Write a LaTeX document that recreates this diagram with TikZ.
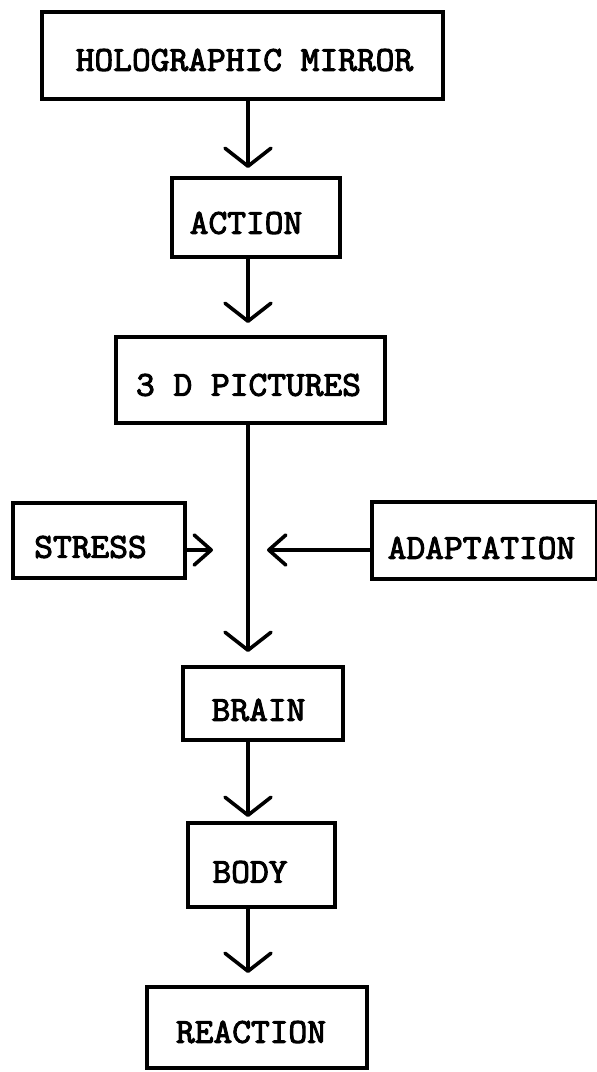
\documentclass[tikz,border=0pt]{standalone}
\usepackage{fontspec}
% slab-serif typewriter face, widened and darkened a little
\setmonofont{Latin Modern Mono}[FakeStretch=1.04, BoldFont={Latin Modern Mono}, BoldFeatures={FakeBold=3}]
\usetikzlibrary{arrows.meta}
\begin{document}
\begin{tikzpicture}[x=1pt,y=-1pt,
  box/.style={draw, line width=3.6pt, inner sep=0pt, outer sep=0pt},
  lbl/.style={font=\ttfamily\bfseries\fontsize{35}{35}\selectfont, inner sep=0pt, anchor=center},
  flow/.style={line width=3.6pt, line cap=round, line join=round,
    -{Straight Barb[length=18pt,width=46pt,round]}},
  side/.style={line width=3.6pt, line cap=round, line join=round,
    -{Straight Barb[length=17pt,width=30pt,round]}}]
\useasboundingbox (0,0) rectangle (597,1072);

% boxes
\node[box, minimum width=401pt, minimum height=87pt] (holo)     at (242.5,55.5)  {};
\node[box, minimum width=168pt, minimum height=79pt] (action)   at (256,217.5)   {};
\node[box, minimum width=269pt, minimum height=86pt] (pics)     at (250.5,380)   {};
\node[box, minimum width=172pt, minimum height=75pt] (stress)   at (99,540.5)    {};
\node[box, minimum width=225pt, minimum height=77pt] (adapt)    at (484.5,540.5) {};
\node[box, minimum width=160pt, minimum height=73pt] (brain)    at (263,703.5)   {};
\node[box, minimum width=147pt, minimum height=84pt] (body)     at (261.5,865)   {};
\node[box, minimum width=220pt, minimum height=81pt] (reaction) at (257,1027.5)  {};

% labels
\node[lbl] (holoT)     at (244.5,60)  {HOLOGRAPHIC MIRROR};
\node[lbl] (actionT)   at (246,223)   {ACTION};
\node[lbl] (picsT)     at (248.5,385) {3 D PICTURES};
\node[lbl] (stressT)   at (90.5,547)  {STRESS};
\node[lbl] (adaptT)    at (481.5,548) {ADAPTATION};
\node[lbl] (brainT)    at (258.5,710) {BRAIN};
\node[lbl] (bodyT)     at (250,872)   {BODY};
\node[lbl] (reactionT) at (251,1032)  {REACTION};

% main vertical flow
\coordinate (spine) at (248,0);
\coordinate (mid) at (248,550);
\draw[flow, shorten >=10pt] (holo.south -| spine)   -- (action.north -| spine);
\draw[flow, shorten >=14pt] (action.south -| spine) -- (pics.north -| spine);
\draw[flow, shorten >=15pt] (pics.south -| spine)   -- (brain.north -| spine);
\draw[flow, shorten >=6pt]  (brain.south -| spine)  -- (body.north -| spine);
\draw[flow, shorten >=14pt] (body.south -| spine)   -- (reaction.north -| spine);

% side inputs
\draw[side, shorten >=35pt] (stress.east |- mid) -- (mid);
\draw[side, shorten >=19pt] (adapt.west |- mid)  -- (mid);
\end{tikzpicture}
\end{document}
